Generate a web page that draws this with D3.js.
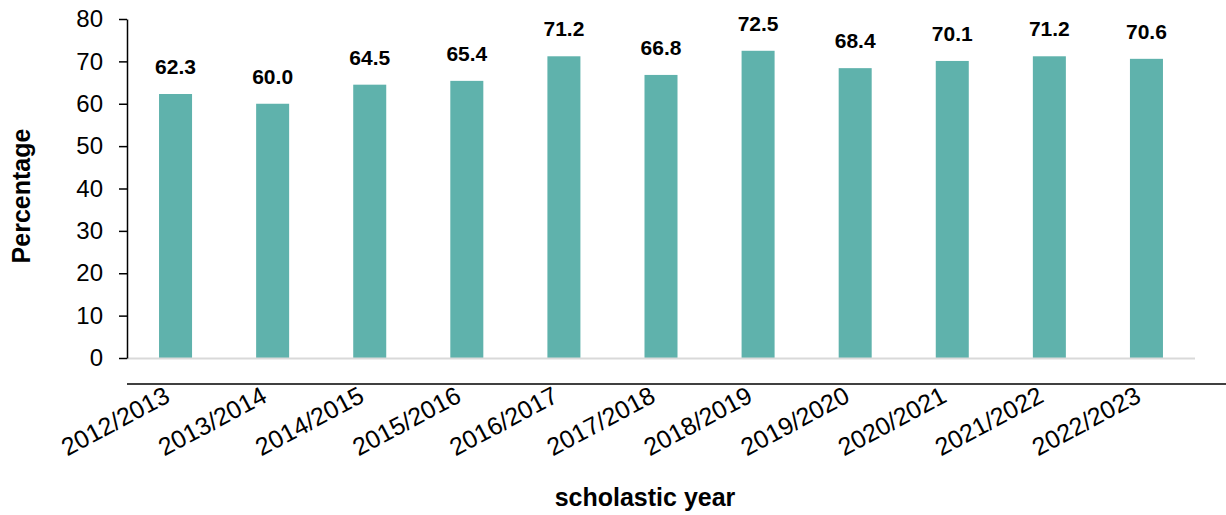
<!DOCTYPE html>
<html>
<head>
<meta charset="utf-8">
<script src="https://cdn.jsdelivr.net/npm/d3@7"></script>
<style>
  body { margin: 0; background: #fff; }
  text { font-family: Arial, "Liberation Sans", sans-serif; }
</style>
</head>
<body>
<div id="chart"></div>
<script>
// data
const years = ["2012/2013", "2013/2014", "2014/2015", "2015/2016", "2016/2017", "2017/2018",
  "2018/2019", "2019/2020", "2020/2021", "2021/2022", "2022/2023"];
const values = [62.3, 60.0, 64.5, 65.4, 71.2, 66.8, 72.5, 68.4, 70.1, 71.2, 70.6];
const yTicks = [0, 10, 20, 30, 40, 50, 60, 70, 80];

const W = 1226, H = 515;
const margin = { top: 19, right: 31, bottom: 157, left: 127 };
const width = W - margin.left - margin.right;
const height = H - margin.top - margin.bottom;

const svg = d3.select("#chart")
  .append("svg")
  .attr("width", W)
  .attr("height", H);

const g = svg.append("g")
  .attr("transform", `translate(${margin.left}, ${margin.top})`);

const x = d3.scaleBand()
  .domain(years)
  .range([0, width])
  .paddingInner(0.66)
  .paddingOuter(0.33);

const y = d3.scaleLinear()
  .domain([0, 80])
  .range([height, 0]);

// bars
g.selectAll(".bar")
  .data(years)
  .enter()
  .append("rect")
  .attr("class", "bar")
  .attr("x", d => x(d))
  .attr("y", (d, i) => y(values[i]))
  .attr("width", x.bandwidth())
  .attr("height", (d, i) => height - y(values[i]))
  .attr("fill", "#5fb2ac");

// value labels
g.selectAll(".val")
  .data(years)
  .enter()
  .append("text")
  .attr("x", d => x(d) + x.bandwidth() / 2)
  .attr("y", (d, i) => y(values[i]) - 20)
  .attr("text-anchor", "middle")
  .style("font-size", "21px")
  .style("font-weight", "bold")
  .style("fill", "#000")
  .text((d, i) => values[i].toFixed(1));

// gray baseline
g.append("line")
  .attr("x1", 0).attr("x2", width)
  .attr("y1", height + 0.5).attr("y2", height + 0.5)
  .attr("stroke", "#d9d9d9")
  .attr("stroke-width", 2);

// y axis
const yAxis = g.append("g")
  .call(d3.axisLeft(y).tickValues(yTicks).tickSize(8).tickSizeOuter(0).tickPadding(16));
yAxis.select(".domain").attr("stroke", "#000").attr("stroke-width", 1.5);
yAxis.selectAll(".tick line").attr("stroke", "#000").attr("stroke-width", 1.5);
yAxis.selectAll("text")
  .style("font-size", "24px")
  .style("font-family", "Arial, 'Liberation Sans', sans-serif")
  .attr("fill", "#000");

// lower category axis
const xAxisY = height + 26;
g.append("line")
  .attr("x1", 0).attr("x2", W - margin.left)
  .attr("y1", xAxisY).attr("y2", xAxisY)
  .attr("stroke", "#000")
  .attr("stroke-width", 1.5);

g.selectAll(".xlab")
  .data(years)
  .enter()
  .append("text")
  .attr("class", "xlab")
  .attr("transform", d => `translate(${x(d) + x.bandwidth() / 2 - 4}, ${xAxisY + 17}) rotate(-28)`)
  .attr("text-anchor", "end")
  .style("font-size", "25px")
  .style("fill", "#000")
  .text(d => d);

// axis titles
svg.append("text")
  .attr("transform", `translate(30, ${196}) rotate(-90)`)
  .attr("text-anchor", "middle")
  .style("font-size", "25px")
  .style("font-weight", "bold")
  .style("fill", "#000")
  .text("Percentage");

svg.append("text")
  .attr("x", 645)
  .attr("y", 506)
  .attr("text-anchor", "middle")
  .style("font-size", "25px")
  .style("font-weight", "bold")
  .style("fill", "#000")
  .text("scholastic year");
</script>
</body>
</html>
